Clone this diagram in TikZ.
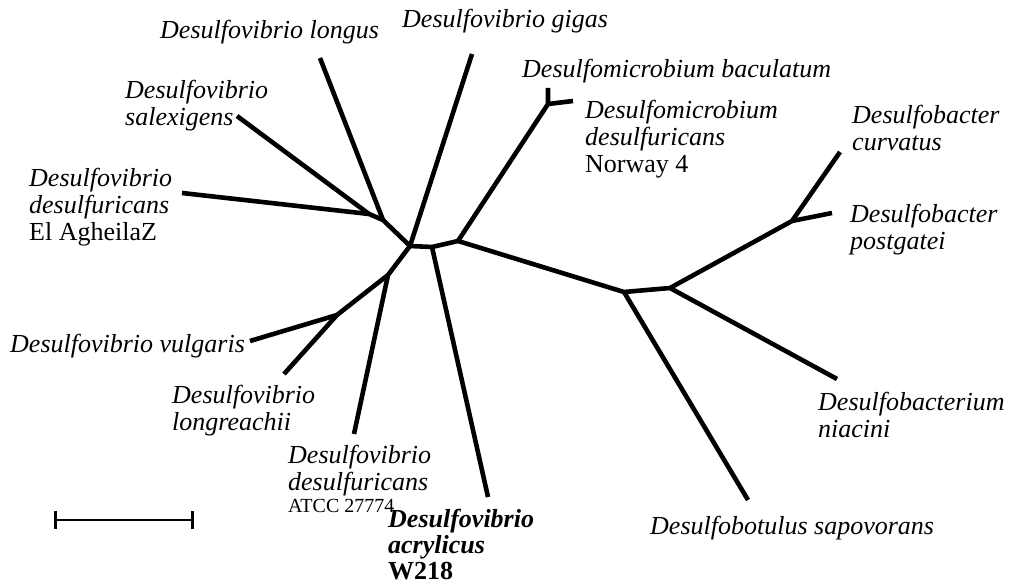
\documentclass[tikz,border=0pt]{standalone}
\usepackage{fontspec}
\setmainfont{Liberation Serif}
\newcommand\topst{\rule{0pt}{19pt}}
\begin{document}
\begin{tikzpicture}[x=1pt,y=-1pt,
  br/.style={line width=4.6pt, line cap=butt, line join=round},
  lab/.style={anchor=north west, inner sep=0pt, align=left, font=\fontsize{26}{27}\selectfont\itshape},
  barline/.style={line width=2.5pt},
  bartick/.style={line width=3pt}]
\useasboundingbox (0,0) rectangle (1012,585);
% junctions
\coordinate (J1) at (410,246);
\coordinate (J2) at (432,247);
\coordinate (J3) at (458,241);
\coordinate (K1) at (369,214);
\coordinate (K2) at (383,220);
\coordinate (L1) at (388,275);
\coordinate (L2) at (337,315);
\coordinate (M) at (548,104);
\coordinate (R1) at (624,292);
\coordinate (R2) at (670,288);
\coordinate (R3) at (792,221);
% tips
\coordinate (tLong) at (320,58);
\coordinate (tGig) at (472,54);
\coordinate (tSal) at (237,116);
\coordinate (tElA) at (182,193);
\coordinate (tATCC) at (354,434);
\coordinate (tVul) at (250,341);
\coordinate (tLgr) at (284,374);
\coordinate (tAcr) at (488,497);
\coordinate (tBac) at (548,88);
\coordinate (tMde) at (573,101);
\coordinate (tCur) at (840,152);
\coordinate (tPos) at (832,213);
\coordinate (tNia) at (837,379);
\coordinate (tSap) at (748,500);
% branches
\draw[br] (tElA) -- (K1) -- (K2) -- (J1) -- (J2) -- (J3) -- (R1) -- (R2) -- (R3) -- (tCur);
\draw[br] (tSal) -- (K1);
\draw[br] (tLong) -- (K2);
\draw[br] (tGig) -- (J1);
\draw[br] (J1) -- (L1) -- (L2) -- (tVul);
\draw[br] (L1) -- (tATCC);
\draw[br] (L2) -- (tLgr);
\draw[br] (J2) -- (tAcr);
\draw[br] (J3) -- (M) -- (tBac);
\draw[br] (M) -- (tMde);
\draw[br] (R1) -- (tSap);
\draw[br] (R2) -- (tNia);
\draw[br] (R3) -- (tPos);
% scale bar
\coordinate (s1) at (55,520);
\coordinate (s2) at (192,520);
\draw[barline] (s1) -- (s2);
\draw[bartick] (s1) ++(0,-9) -- ++(0,18);
\draw[bartick] (s2) ++(0,-9) -- ++(0,18);
% labels
\node[lab] (nLong) at (160,19) {\topst Desulfovibrio longus};
\node[lab] (nGig) at (402,8) {\topst Desulfovibrio gigas};
\node[lab] (nBac) at (522,58) {\topst Desulfomicrobium baculatum};
\node[lab] (nMde) at (585,99) {\topst Desulfomicrobium\\desulfuricans\\\upshape Norway 4};
\node[lab] (nSal) at (125,79) {\topst Desulfovibrio\\salexigens};
\node[lab] (nElA) at (29,167) {\topst Desulfovibrio\\desulfuricans\\\upshape El AgheilaZ};
\node[lab] (nCur) at (852,104) {\topst Desulfobacter\\curvatus};
\node[lab] (nPos) at (850,203) {\topst Desulfobacter\\postgatei};
\node[lab] (nVul) at (10,333) {\topst Desulfovibrio vulgaris};
\node[lab] (nLgr) at (172,384) {\topst Desulfovibrio\\longreachii};
\node[lab] (nATCC) at (288,444) {\topst Desulfovibrio\\desulfuricans\\[-5pt]{\upshape\fontsize{20}{21}\selectfont ATCC 27774}};
\node[lab, font=\fontsize{26}{26}\selectfont\itshape\bfseries] (nAcr) at (388,508) {\topst Desulfovibrio\\acrylicus\\\upshape W218};
\node[lab] (nSap) at (650,515) {\topst Desulfobotulus sapovorans};
\node[lab] (nNia) at (818,391) {\topst Desulfobacterium\\niacini};
\end{tikzpicture}
\end{document}
